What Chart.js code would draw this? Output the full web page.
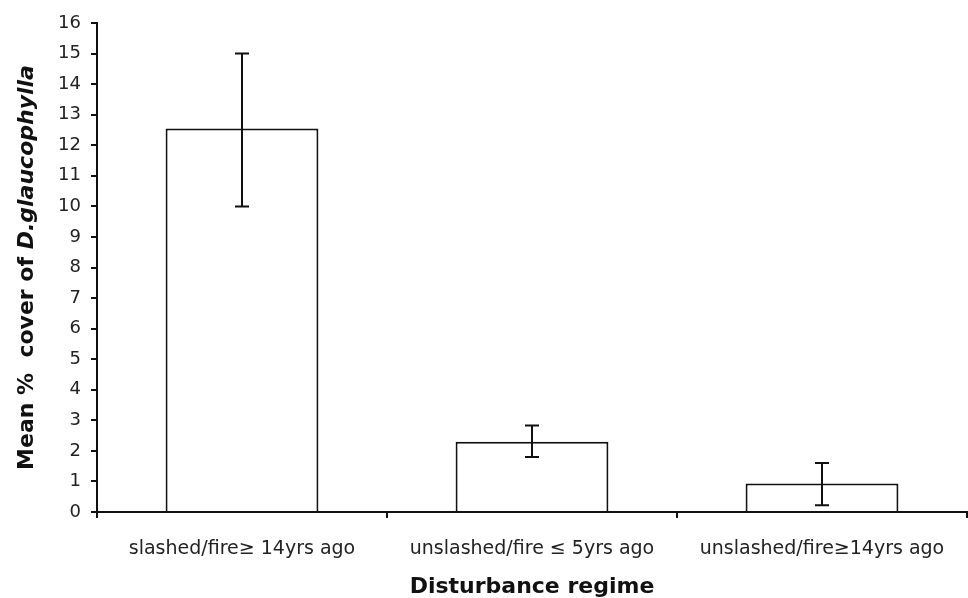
<!DOCTYPE html>
<html>
<head>
<meta charset="utf-8">
<script src="https://cdn.jsdelivr.net/npm/chart.js@4.4.1/dist/chart.umd.min.js"></script>
<style>
  html, body { margin: 0; padding: 0; background: #fff; }
  .chart { width: 968px; height: 598px; }
</style>
</head>
<body>
<div class="chart"><canvas id="myChart" width="968" height="598"></canvas></div>
<script>
const categories = ["slashed/fire\u2265 14yrs ago", "unslashed/fire \u2264 5yrs ago", "unslashed/fire\u226514yrs ago"];
const meanCover  = [12.55, 2.3, 0.93];
const errorLow   = [10.0, 1.8, 0.22];
const errorHigh  = [15.0, 2.83, 1.6];
const yMin = 0;
const yMax = 16;
const yStep = 1;

const xTitle = "Disturbance regime";
const yTitlePlain  = "Mean %  cover of ";
const yTitleItalic = "D.glaucophylla";

class View {
  constructor() {
    this.ctx = document.getElementById('myChart');
  }

  // error bars drawn through the y scale
  errorBars() {
    return {
      id: 'errorBars',
      afterDatasetsDraw(chart) {
        const c = chart.ctx;
        const y = chart.scales.y;
        const meta = chart.getDatasetMeta(0);
        c.save();
        c.strokeStyle = '#111';
        c.lineWidth = 2;
        meta.data.forEach((bar, i) => {
          const top = y.getPixelForValue(errorHigh[i]);
          const bot = y.getPixelForValue(errorLow[i]);
          c.beginPath();
          c.moveTo(bar.x, top); c.lineTo(bar.x, bot);
          c.moveTo(bar.x - 7, top); c.lineTo(bar.x + 7, top);
          c.moveTo(bar.x - 7, bot); c.lineTo(bar.x + 7, bot);
          c.stroke();
        });
        c.restore();
      }
    };
  }

  // rotated y title with an italic species name
  yTitle() {
    return {
      id: 'yTitle',
      afterDraw(chart) {
        const c = chart.ctx;
        const area = chart.chartArea;
        const plainFont  = 'bold 22px "DejaVu Sans"';
        const italicFont = 'italic bold 22px "DejaVu Sans"';
        c.save();
        c.font = plainFont;
        const w1 = c.measureText(yTitlePlain).width;
        c.font = italicFont;
        const w2 = c.measureText(yTitleItalic).width;
        c.translate(27, (area.top + area.bottom) / 2);
        c.rotate(-Math.PI / 2);
        c.fillStyle = '#111';
        c.textBaseline = 'middle';
        c.textAlign = 'left';
        let x = -(w1 + w2) / 2;
        c.font = plainFont;
        c.fillText(yTitlePlain, x, 0);
        c.font = italicFont;
        c.fillText(yTitleItalic, x + w1, 0);
        c.restore();
      }
    };
  }

  printChart() {
    return new Chart(this.ctx, {
      type: 'bar',
      data: {
        labels: [...categories],
        datasets: [{
          data: [...meanCover],
          backgroundColor: '#fff',
          borderColor: '#111',
          borderWidth: 2,
          categoryPercentage: 1,
          barPercentage: 0.527
        }]
      },
      options: {
        responsive: false,
        animation: false,
        layout: { padding: { top: 23, right: 1, left: 0, bottom: 0 } },
        plugins: {
          legend: { display: false },
          tooltip: { enabled: false }
        },
        scales: {
          x: {
            offset: true,
            afterFit: (s) => { s.height = 86; },
            border: { color: '#111', width: 2 },
            grid: { offset: true, drawOnChartArea: false, drawTicks: true, tickLength: 6, color: '#111', lineWidth: 2 },
            ticks: { color: '#222', padding: 20, maxRotation: 0, font: { family: 'DejaVu Sans', size: 19 } },
            title: {
              display: true, text: xTitle, color: '#111',
              padding: { top: 0, bottom: 0 },
              font: { family: 'DejaVu Sans', size: 22, weight: 'bold', lineHeight: 1 }
            }
          },
          y: {
            min: yMin,
            max: yMax,
            afterFit: (s) => { s.width = 97; },
            border: { color: '#111', width: 2 },
            grid: { drawOnChartArea: false, drawTicks: true, tickLength: 6, color: '#111', lineWidth: 2 },
            ticks: { stepSize: yStep, color: '#222', padding: 10, font: { family: 'DejaVu Sans', size: 18 } }
          }
        }
      },
      plugins: [this.errorBars(), this.yTitle()]
    });
  }
}

new View().printChart();
</script>
</body>
</html>
